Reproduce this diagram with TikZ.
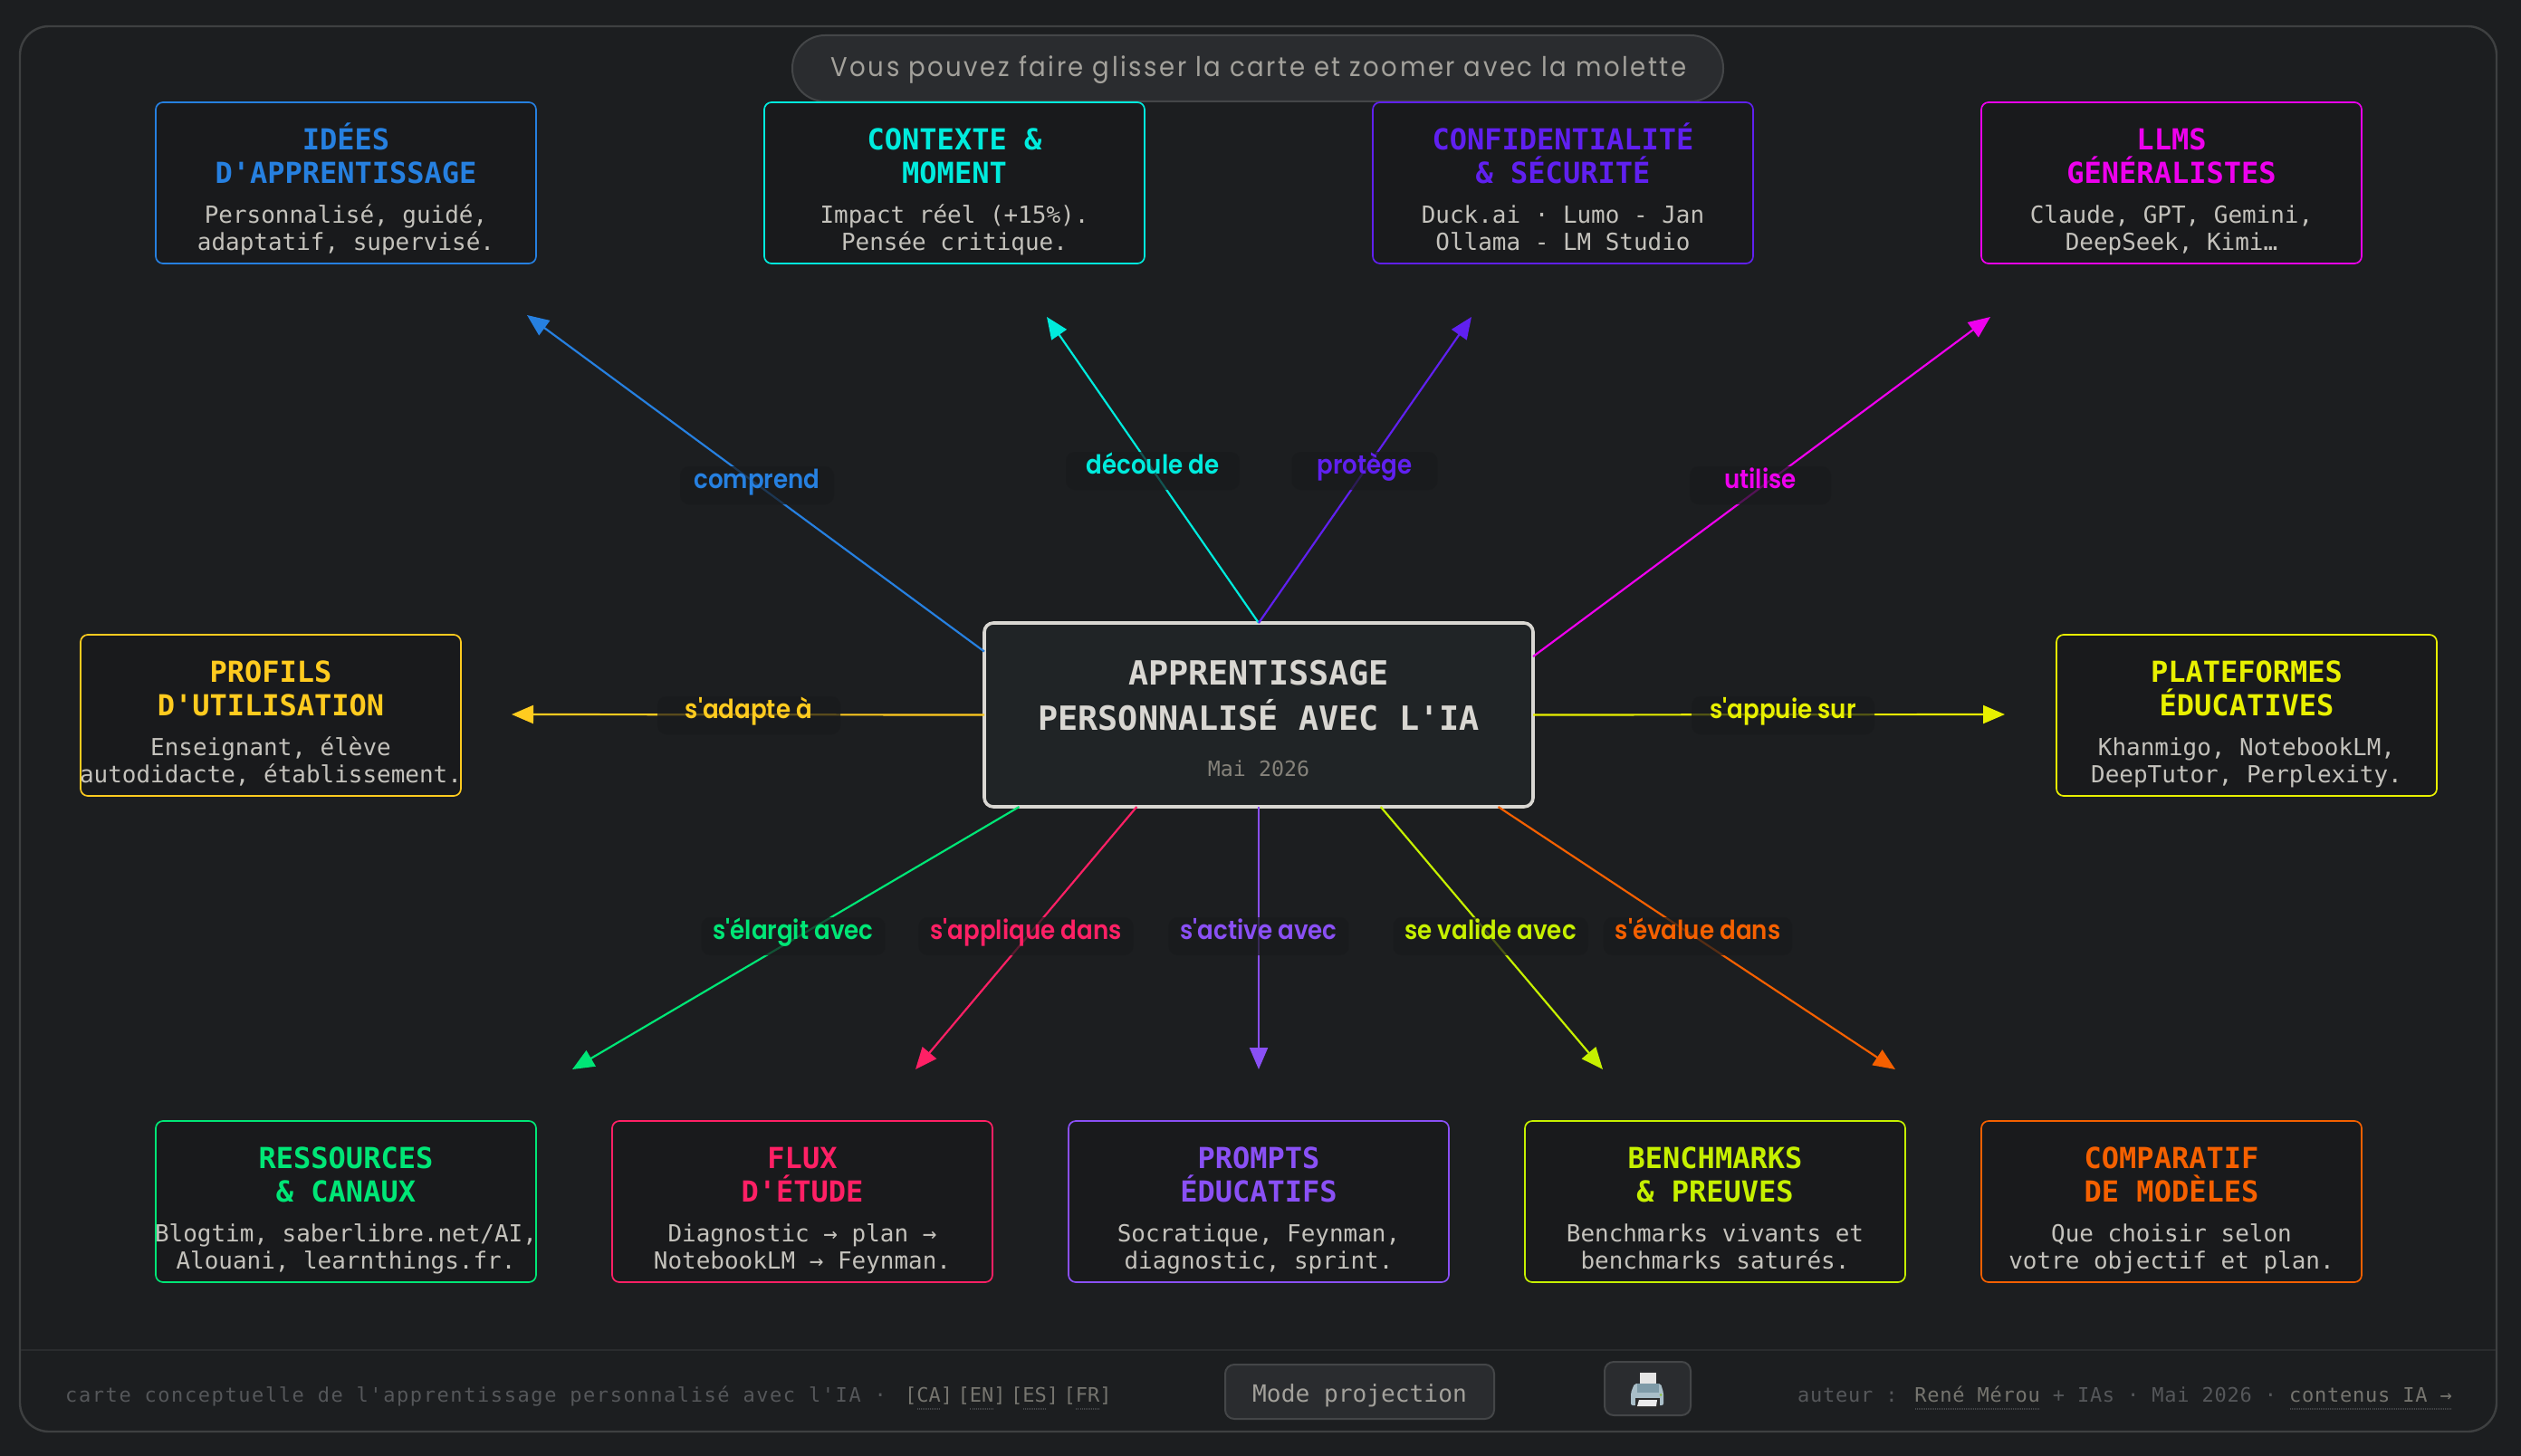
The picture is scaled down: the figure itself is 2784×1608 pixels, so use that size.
\documentclass[tikz,border=0pt]{standalone}
\usepackage{fontspec}
\usetikzlibrary{arrows.meta}
\setmonofont{DejaVu Sans Mono}
\newfontfamily\lblfont[FakeStretch=0.9,UprightFont=* SemiBold]{Poppins}
\newfontfamily\pillfont[FakeStretch=0.92,LetterSpace=8.4]{Poppins}
\newfontfamily\ftleft[LetterSpace=7.2]{DejaVu Sans Mono}
\newfontfamily\ftright[LetterSpace=3.4]{DejaVu Sans Mono}
\definecolor{pagebg}{HTML}{1C1E20}
\definecolor{framec}{HTML}{3E4041}
\definecolor{footline}{HTML}{2A2C2E}
\definecolor{boxbg}{HTML}{191A1C}
\definecolor{bodyc}{HTML}{C4C2BC}
\definecolor{cenbg}{HTML}{202426}
\definecolor{cenline}{HTML}{D9D7D2}
\definecolor{cendate}{HTML}{85827A}
\definecolor{pillbg}{HTML}{2A2C2F}
\definecolor{pillline}{HTML}{444648}
\definecolor{pilltext}{HTML}{A3A19B}
\definecolor{ftdim}{HTML}{55575A}
\definecolor{ftmid}{HTML}{76756F}
\definecolor{ftdot}{HTML}{45474A}
\definecolor{cblue}{HTML}{2680E0}
\definecolor{ccyan}{HTML}{00EBDD}
\definecolor{cindigo}{HTML}{6020F0}
\definecolor{cmag}{HTML}{EE00EE}
\definecolor{camber}{HTML}{FFCB1F}
\definecolor{cyell}{HTML}{E8F000}
\definecolor{cgreen}{HTML}{00E676}
\definecolor{crose}{HTML}{FF2065}
\definecolor{cviolet}{HTML}{8A50F5}
\definecolor{clime}{HTML}{C6F000}
\definecolor{corange}{HTML}{F56000}
\definecolor{prbody}{HTML}{A9BEC8}
\definecolor{prband}{HTML}{7F9BA8}
\definecolor{prtray}{HTML}{2B2B2B}
\definecolor{prgreen}{HTML}{8CC63F}
\newcommand{\linebox}[2]{\hbox to 420pt{\hss\smash{#1#2}\hss}}
\newcommand{\cardtext}[5]{\vbox to 178pt{\offinterlineskip\vskip52pt
  \linebox{\fontsize{32}{37}\selectfont\ttfamily\bfseries\color{#1}}{#2}\vskip37pt
  \linebox{\fontsize{32}{37}\selectfont\ttfamily\bfseries\color{#1}}{#3}\vskip44pt
  \linebox{\fontsize{25.95}{30}\selectfont\ttfamily\color{bodyc}}{#4}\vskip30pt
  \linebox{\fontsize{25.95}{30}\selectfont\ttfamily\color{bodyc}}{#5}\vss}}
\newcommand{\dotul}[1]{\setbox0\hbox{#1}\rlap{\raisebox{-8.5pt}{\hbox to \wd0{\color{ftdot}\xleaders\hbox to 2pt{\hss\rule{1pt}{1.5pt}\hss}\hfill}}}\box0}
\tikzset{
  x=1pt,y=-1pt,
  card/.style={draw=#1,fill=boxbg,line width=1.7pt,rounded corners=8pt,inner sep=0pt,outer sep=0pt,anchor=north west},
  link/.style={draw=#1,line width=2.2pt,-{Triangle[length=24pt,width=20pt]},fill=#1},
  lab/.style={text=#1,fill=boxbg,fill opacity=.72,text opacity=1,rounded corners=10pt,inner xsep=13pt,inner ysep=0pt,text height=24pt,text depth=18pt,anchor=base,font=\fontsize{29}{33}\selectfont\lblfont},
  btn/.style={draw=#1,fill=pillbg,line width=2pt,rounded corners=10pt,inner sep=0pt,outer sep=0pt,anchor=north west}
}
\begin{document}
\begin{tikzpicture}
\useasboundingbox (0,0) rectangle (2784,1608);
\fill[pagebg] (0,0) rectangle (2784,1608);
\draw[framec,line width=2.4pt,rounded corners=32pt] (22,29) rectangle (2757,1581);
\draw[footline,line width=2.4pt] (23,1491) -- (2756,1491);
% top pill
\node[draw=pillline,fill=pillbg,line width=2pt,rounded corners=36pt,minimum width=1028pt,minimum height=73pt,inner sep=0pt,anchor=center] (hint) at (1389,75.5) {};
\node[text=pilltext,anchor=base,inner sep=0pt,font=\fontsize{30}{34}\selectfont\pillfont] (hinttext) at (1390,85) {Vous pouvez faire glisser la carte et zoomer avec la molette};
% centre
\node[draw=cenline,fill=cenbg,line width=3.6pt,rounded corners=10pt,minimum width=606pt,minimum height=203pt,inner sep=0pt,outer sep=0pt,anchor=center] (cen) at (1390,789.5) {};
\node[text=cenline,anchor=base,inner sep=0pt,font=\fontsize{36.8}{40}\selectfont\ttfamily\bfseries] (cen1) at (1390,756) {APPRENTISSAGE};
\node[text=cenline,anchor=base,inner sep=0pt,font=\fontsize{36.8}{40}\selectfont\ttfamily\bfseries] (cen2) at (1390,806) {PERSONNALISÉ AVEC L'IA};
\node[text=cendate,anchor=base,inner sep=0pt,font=\fontsize{23.3}{28}\selectfont\ttfamily] (cen3) at (1390,857) {Mai 2026};
% cards
\node[card=cblue] (n1) at (172,113) {\cardtext{cblue}{IDÉES}{D'APPRENTISSAGE}{Personnalisé, guidé,}{adaptatif, supervisé.}};
\node[card=ccyan] (n2) at (844,113) {\cardtext{ccyan}{CONTEXTE \&}{MOMENT}{Impact réel (+15\%).}{Pensée critique.}};
\node[card=cindigo] (n3) at (1516,113) {\cardtext{cindigo}{CONFIDENTIALITÉ}{\& SÉCURITÉ}{Duck.ai · Lumo - Jan}{Ollama - LM Studio}};
\node[card=cmag] (n4) at (2188,113) {\cardtext{cmag}{LLMS}{GÉNÉRALISTES}{Claude, GPT, Gemini,}{DeepSeek, Kimi…}};
\node[card=camber] (n5) at (89,701) {\cardtext{camber}{PROFILS}{D'UTILISATION}{Enseignant, élève}{autodidacte, établissement.}};
\node[card=cyell] (n6) at (2271,701) {\cardtext{cyell}{PLATEFORMES}{ÉDUCATIVES}{Khanmigo, NotebookLM,}{DeepTutor, Perplexity.}};
\node[card=cgreen] (n7) at (172,1238) {\cardtext{cgreen}{RESSOURCES}{\& CANAUX}{Blogtim, saberlibre.net/AI,}{Alouani, learnthings.fr.}};
\node[card=crose] (n8) at (676,1238) {\cardtext{crose}{FLUX}{D'ÉTUDE}{Diagnostic → plan →}{NotebookLM → Feynman.}};
\node[card=cviolet] (n9) at (1180,1238) {\cardtext{cviolet}{PROMPTS}{ÉDUCATIFS}{Socratique, Feynman,}{diagnostic, sprint.}};
\node[card=clime] (n10) at (1684,1238) {\cardtext{clime}{BENCHMARKS}{\& PREUVES}{Benchmarks vivants et}{benchmarks saturés.}};
\node[card=corange] (n11) at (2188,1238) {\cardtext{corange}{COMPARATIF}{DE MODÈLES}{Que choisir selon}{votre objectif et plan.}};
% arrow ends
\coordinate (t1) at (582,348);
\coordinate (t2) at (1156,350);
\coordinate (t3) at (1625,350);
\coordinate (t4) at (2198,350);
\coordinate (t5) at (565,789);
\coordinate (t6) at (2214,789);
\coordinate (t7) at (632,1181);
\coordinate (t8) at (1011,1181);
\coordinate (t9) at (1390,1181);
\coordinate (t10) at (1770,1181);
\coordinate (t11) at (2093,1181);
\draw[link=cblue] (cen.167.6) -- (t1);
\draw[link=ccyan] (cen.north) -- (t2);
\draw[link=cindigo] (cen.north) -- (t3);
\draw[link=cmag] (cen.12.4) -- (t4);
\draw[link=camber] (cen.west) -- (t5);
\draw[link=cyell] (cen.east) -- (t6);
\draw[link=cgreen] (cen.201.25) -- (t7);
\draw[link=crose] (cen.217.8) -- (t8);
\draw[link=cviolet] (cen.south) -- (t9);
\draw[link=clime] (cen.323.1) -- (t10);
\draw[link=corange] (cen.339.7) -- (t11);
% labels
\node[lab=cblue,minimum width=170pt] (l1) at (836,539) {comprend};
\node[lab=ccyan,minimum width=192pt] (l2) at (1273,523) {découle de};
\node[lab=cindigo,minimum width=161pt] (l3) at (1507,523) {protège};
\node[lab=cmag,minimum width=156pt] (l4) at (1944,539) {utilise};
\node[lab=camber,minimum width=202pt] (l5) at (827,793) {s'adapte à};
\node[lab=cyell,minimum width=202pt] (l6) at (1969,793) {s'appuie sur};
\node[lab=cgreen] (l7) at (876,1037) {s'élargit avec};
\node[lab=crose] (l8) at (1133,1037) {s'applique dans};
\node[lab=cviolet] (l9) at (1390,1037) {s'active avec};
\node[lab=clime] (l10) at (1646,1037) {se valide avec};
\node[lab=corange] (l11) at (1875,1037) {s'évalue dans};
% footer
\node[text=ftdim,anchor=base west,inner sep=0pt,font=\fontsize{22}{26}\selectfont\ftleft] (fl) at (72,1548) {carte conceptuelle de l'apprentissage personnalisé avec l'IA ·};
\node[text=ftmid,anchor=base west,inner sep=0pt,font=\fontsize{22}{26}\selectfont\ttfamily] (fb) at (999,1548) {[\dotul{CA}]\kern5.5pt[\dotul{EN}]\kern5.5pt[\dotul{ES}]\kern5.5pt[\dotul{FR}]};
\node[btn=pillline,minimum width=297pt,minimum height=60pt] (bm) at (1353,1507) {};
\node[text=pilltext,anchor=base,inner sep=0pt,font=\fontsize{26.2}{30}\selectfont\ttfamily] (bmt) at (1501.5,1548) {Mode projection};
\node[btn=pillline,minimum width=95pt,minimum height=59pt] (bp) at (1772,1504) {};
\node[text=ftdim,anchor=base east,inner sep=0pt,font=\fontsize{22}{26}\selectfont\ftright] (fr) at (2708,1548) {auteur : {\color{ftmid}\dotul{René Mérou}} + IAs · Mai 2026 · {\color{ftmid}\dotul{contenus IA →}}};
% printer
\fill[white!90!black] (1811,1516) rectangle (1829,1530);
\fill[prbody,rounded corners=2pt] (1805,1528) -- (1834,1528) -- (1837,1538) -- (1837,1552) -- (1801,1552) -- (1801,1538) -- cycle;
\fill[prband] (1808,1528) -- (1832,1528) -- (1832,1538) -- (1808,1538) -- cycle;
\fill[prgreen] (1834,1540.5) circle (1.5pt);
\fill[prtray] (1806,1544) rectangle (1833,1556);
\fill[white!92!black] (1810,1546) -- (1830,1546) -- (1829,1553) -- (1808,1553) -- cycle;
\end{tikzpicture}
\end{document}
